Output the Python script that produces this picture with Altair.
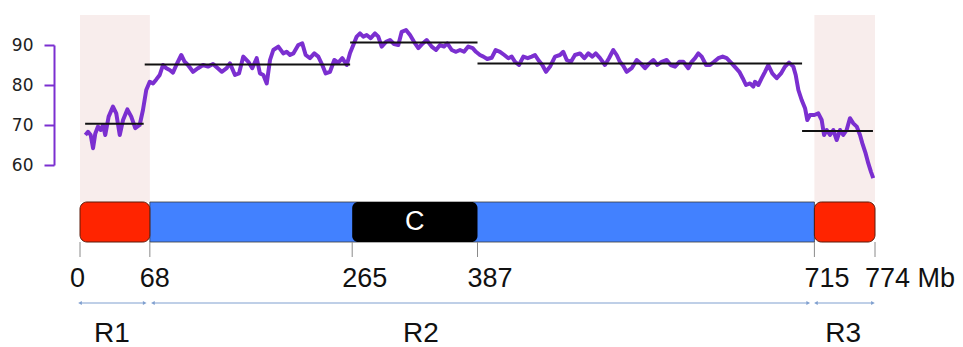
import altair as alt
import pandas as pd

# ---- data -------------------------------------------------------------
line_mb = [5.2, 7.8, 10.4, 12.7, 14.9, 17.5, 20.2, 22.4, 24.6, 27.9, 32.1, 35.3, 38.7, 41.9,
           46.1, 49.9, 53.8, 58.1, 61.3, 64.5, 67.9, 71.1, 74.3, 77.6, 80.8, 84.0, 87.3, 90.5,
           93.8, 98.6, 101.9, 105.1, 110.0, 114.9, 119.8, 124.6, 129.5, 138.0, 142.8, 146.0,
           150.9, 154.8, 159.0, 163.9, 167.7, 172.0, 175.2, 178.5, 181.8, 185.0, 188.2, 193.1,
           197.9, 201.2, 204.5, 207.7, 212.5, 216.4, 219.7, 223.9, 228.1, 232.0, 235.9, 239.2,
           243.4, 247.6, 251.5, 255.4, 259.7, 262.9, 266.1, 269.4, 272.6, 275.8, 279.1, 283.0,
           287.2, 290.4, 293.7, 297.9, 301.8, 305.7, 309.9, 313.2, 317.4, 321.3, 325.2, 329.4,
           333.7, 337.5, 342.4, 346.6, 350.5, 354.4, 357.6, 361.9, 366.1, 370.0, 373.9, 378.0,
           382.3, 385.5, 389.4, 392.7, 396.5, 400.8, 404.7, 408.9, 413.1, 417.0, 420.3, 423.5,
           427.4, 431.6, 435.9, 439.8, 443.0, 446.2, 450.1, 453.7, 457.6, 462.5, 467.3, 470.5,
           473.9, 478.0, 481.9, 486.8, 491.0, 494.9, 498.8, 502.1, 506.3, 511.1, 515.0, 519.2,
           522.5, 525.7, 528.9, 532.2, 537.1, 542.0, 545.9, 550.1, 554.3, 558.2, 562.1, 566.3,
           571.2, 575.1, 579.3, 583.5, 587.4, 592.2, 595.5, 598.8, 602.0, 605.3, 609.5, 613.4,
           617.3, 621.4, 625.7, 629.6, 634.5, 638.7, 641.9, 645.2, 648.4, 652.3, 655.5, 657.2,
           660.4, 663.7, 666.9, 670.1, 674.0, 678.3, 682.5, 686.4, 690.3, 694.5, 696.8, 699.4,
           702.6, 705.9, 708.1, 710.7, 715.0, 718.8, 722.1, 724.4, 727.0, 730.2, 733.4, 736.7,
           740.0, 743.1, 746.4, 749.6, 752.9, 756.2, 759.4, 761.7, 764.9, 767.5, 770.1, 772.3]
line_val = [67.5, 68.3, 67.5, 64.2, 67.9, 69.6, 68.75, 70.0, 67.5, 72.1, 74.6, 72.9, 67.5, 71.25,
            73.9, 72.1, 69.2, 70.0, 73.75, 78.75, 80.8, 80.4, 81.4, 82.5, 85.0, 84.2, 83.75, 83.1,
            85.0, 87.5, 85.8, 85.0, 83.3, 84.2, 85.0, 84.6, 85.25, 83.3, 84.2, 85.4,
            82.5, 82.9, 87.1, 85.8, 84.2, 86.7, 82.9, 82.5, 80.4, 86.25, 88.75, 89.6,
            87.9, 88.3, 87.5, 87.9, 90.0, 90.4, 87.5, 86.7, 87.9, 87.1, 85.0, 82.9,
            83.3, 86.25, 85.6, 86.7, 85.0, 88.0, 90.0, 92.1, 92.9, 92.1, 92.5, 91.7,
            92.9, 92.1, 89.6, 90.8, 91.25, 90.25, 90.0, 93.3, 93.75, 92.5, 90.8, 89.2,
            90.4, 91.25, 89.6, 88.75, 90.0, 89.6, 90.4, 88.75, 88.3, 88.75, 88.3, 89.6,
            89.2, 88.3, 87.5, 87.1, 86.5, 86.8, 88.75, 88.3, 87.5, 86.7, 87.1, 85.8,
            85.0, 87.1, 86.7, 87.1, 87.5, 86.25, 85.0, 83.3, 84.6, 87.1, 87.5, 88.3,
            86.25, 85.8, 87.5, 87.9, 86.7, 87.9, 87.1, 87.9, 86.7, 85.0, 86.7, 88.75,
            87.5, 85.8, 84.8, 83.3, 84.2, 86.25, 85.4, 84.2, 85.4, 86.25, 85.0, 85.8,
            86.25, 85.0, 84.6, 85.8, 85.8, 84.2, 85.8, 86.7, 87.9, 87.1, 85.0, 85.0,
            85.8, 86.7, 87.1, 86.7, 85.4, 84.2, 83.3, 81.7, 80.0, 80.4, 79.6, 80.8,
            80.0, 81.7, 83.3, 85.0, 82.9, 81.7, 82.9, 84.6, 85.6, 84.6, 82.5, 78.75,
            76.25, 74.2, 71.25, 72.5, 72.5, 72.9, 71.25, 67.5, 68.75, 67.5, 68.75, 66.25,
            68.75, 67.5, 68.75, 71.7, 70.4, 69.6, 67.5, 65.4, 62.9, 60.4, 58.3, 56.7]

seg_start = [5, 63, 263, 387, 703]
seg_end = [62, 263, 387, 703, 772]
seg_level = [70.3, 85.1, 90.6, 85.4, 68.5]

shade_start = [0, 715]
shade_end = [68, 774]

arm_start = [68]
arm_end = [715]
tel_start = [0, 715]
tel_end = [68, 774]
cen_start = [265]
cen_end = [387]
cen_label = ["C"]

tick_mb = [0, 68, 265, 387, 715, 774]
tick_text = ["0", "68", "265", "387", "715", "774 Mb"]

region_names = ["R1", "R2", "R3"]
region_label_mb = [31, 332, 743]
arrow_start = [0, 71, 716.5]
arrow_end = [63, 709, 772]

y_ticks = [60, 70, 80, 90]

# ---- styles ------------------------------------------------------------
PURPLE = "#7B2FD0"
W, H = 795, 332
xs = alt.Scale(domain=[0, 774], nice=False, zero=False)
ys = alt.Scale(domain=[60, 90], range=[150, 30], nice=False, zero=False)

line_df = pd.DataFrame({"mb": line_mb, "v": line_val})
seg_df = pd.DataFrame({"s": seg_start, "e": seg_end, "v": seg_level})
shade_df = pd.DataFrame({"s": shade_start, "e": shade_end})
arm_df = pd.DataFrame({"s": arm_start, "e": arm_end})
tel_df = pd.DataFrame({"s": tel_start, "e": tel_end})
cen_df = pd.DataFrame({"s": cen_start, "e": cen_end, "t": cen_label})
cen_df["m"] = (cen_df["s"] + cen_df["e"]) / 2
tick_df = pd.DataFrame({"mb": tick_mb, "t": tick_text})
reg_df = pd.DataFrame({"name": region_names, "mb": region_label_mb})
arr_df = pd.DataFrame({"s": arrow_start, "e": arrow_end})

X = lambda f: alt.X(f, type="quantitative", scale=xs, axis=None)

shade = alt.Chart(shade_df).mark_rect(color="#F8EDEC").encode(
    x=X("s"), x2="e", y=alt.value(0), y2=alt.value(187))

line = alt.Chart(line_df).mark_line(color=PURPLE, strokeWidth=4, strokeJoin="round").encode(
    x=X("mb"),
    y=alt.Y("v:Q", scale=ys, axis=alt.Axis(
        values=y_ticks, offset=26, tickSize=10, tickWidth=2, tickColor=PURPLE,
        domainColor=PURPLE, domainWidth=2, labelFont="DejaVu Sans", labelFontSize=17,
        labelColor="#222", labelPadding=11, grid=False, title=None, format="d")))

segs = alt.Chart(seg_df).mark_rule(color="#111", strokeWidth=2).encode(
    x=X("s"), x2="e", y=alt.Y("v:Q", scale=ys))

arm = alt.Chart(arm_df).mark_rect(color="#4281FF", stroke="#3a3a3a", strokeWidth=0.8).encode(
    x=X("s"), x2="e", y=alt.value(187), y2=alt.value(227))

tel = alt.Chart(tel_df).mark_rect(color="#FF2400", stroke="#5a1a0a", strokeWidth=1,
                                  cornerRadius=7).encode(
    x=X("s"), x2="e", y=alt.value(187), y2=alt.value(227))

cen = alt.Chart(cen_df).mark_rect(color="#000000", cornerRadius=6).encode(
    x=X("s"), x2="e", y=alt.value(187), y2=alt.value(227))

cen_txt = alt.Chart(cen_df).mark_text(color="white", fontSize=27, font="Liberation Sans",
                                      baseline="middle").encode(
    x=X("m"), y=alt.value(207), text="t:N")

tick_rules = alt.Chart(tick_df).mark_rule(color="#8a8a8a", strokeWidth=1).encode(
    x=X("mb"), y=alt.value(227), y2=alt.value(242))

tick_lbl = alt.Chart(tick_df).mark_text(align="left", dx=-10, baseline="alphabetic",
                                        fontSize=27, font="Liberation Sans",
                                        color="#111").encode(
    x=X("mb"), y=alt.value(272), text="t:N")

ARROW = "#7F9FCF"
arr_line = alt.Chart(arr_df).mark_rule(color=ARROW, strokeWidth=1).encode(
    x=X("s"), x2="e", y=alt.value(288))
arr_l = alt.Chart(arr_df).mark_point(shape="triangle-left", filled=True, color=ARROW,
                                     size=18, opacity=1).encode(x=X("s"), y=alt.value(288))
arr_r = alt.Chart(arr_df).mark_point(shape="triangle-right", filled=True, color=ARROW,
                                     size=18, opacity=1).encode(x=X("e"), y=alt.value(288))

reg_lbl = alt.Chart(reg_df).mark_text(baseline="alphabetic", fontSize=28,
                                      font="Liberation Sans", color="#111").encode(
    x=X("mb"), y=alt.value(327), text="name:N")

chart = alt.layer(
    shade, arm, tel, cen, cen_txt, tick_rules, tick_lbl, arr_line, arr_l, arr_r, reg_lbl,
    line, segs
).properties(
    width=W, height=H,
    autosize=alt.AutoSizeParams(type="none"),
    padding={"left": 72, "top": 7, "right": 80, "bottom": 0},
).configure_view(stroke=None)

chart.save("out.html", embed_options={"renderer": "svg", "actions": False})
